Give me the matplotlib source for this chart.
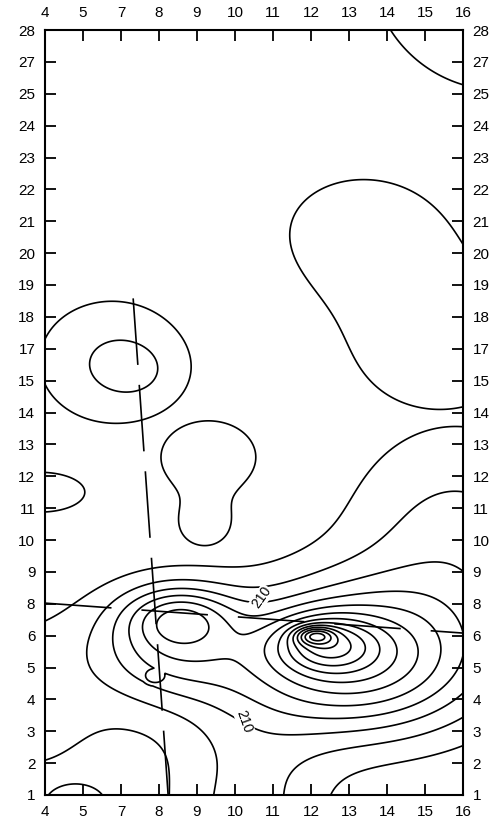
import numpy as np
import matplotlib
matplotlib.use("Agg")
import matplotlib.pyplot as plt

# ---- tick labels (as printed on the chart) ----
x_labels = ["4", "5", "7", "8", "9", "10", "11", "12", "13", "14", "15", "16"]
y_labels = ["1", "2", "3", "4", "5", "6", "8", "9", "10", "11", "12", "13", "14",
            "15", "17", "18", "19", "20", "21", "22", "23", "24", "25", "27", "28"]

# ---- field features ----
# group, centre x, centre y, amplitude, spread x, spread y
feat_group = [0, 1, 1, 2, 2, 3, 3, 4, 5,
              6, 6, 6, 6, 6, 6, 6, 6, 7]
feat_x   = [11.97, 8.3, 10.4, 1.75, 2.55, 4.3, 4.2, -0.13, 0.8,
            3.55, 3.3, 7.1, 7.35, 8.0, 10.8, 5.3, -0.5, 2.9]
feat_y   = [26.2, 17.8, 14.0, 13.6, 13.25, 10.6, 8.4, 9.5, -0.3,
            5.6, 4.8, 5.0, 4.75, 4.2, 7.5, -1.0, 3.0, 3.75]
feat_amp = [2.0, 1.4, 1.45, 2.0, 0.6, 1.8, 1.4, 2.0, 2.0,
            2.6, 4.0, 4.0, 4.0, 6.5, 2.5, 2.4, 1.5, 5.0]
feat_sx  = [2.9, 2.0, 2.4, 1.6, 0.8, 1.15, 0.65, 1.0, 0.68,
            0.9, 1.4, 0.35, 0.9, 2.2, 2.2, 1.5, 1.8, 0.38]
feat_sy  = [3.47, 1.7, 2.2, 1.6, 0.75, 1.05, 0.65, 0.53, 0.55,
            0.6, 1.3, 0.2, 0.6, 1.6, 3.0, 3.0, 2.2, 0.33]

levels = [1, 2, 3, 4, 5, 6, 7, 8, 9, 10, 11, 12, 13, 14, 15]

# section lines
sec_v_x = [2.32, 3.24]
sec_v_y = [15.58, 0.0]
sec_h_x = [0.0, 11.0]
sec_h_y = [6.02, 5.08]

# contour labels
clabel_text = ["210", "210"]
clabel_x = [5.7, 5.24]
clabel_y = [6.2, 2.29]
clabel_rot = [55, -70]

gx = np.linspace(0, 11, 551)
gy = np.linspace(0, 24, 1201)
X, Y = np.meshgrid(gx, gy)
groups = {}
for g, cx, cy, a, sx, sy in zip(feat_group, feat_x, feat_y, feat_amp, feat_sx, feat_sy):
    groups.setdefault(g, np.zeros_like(X))
    groups[g] += a * np.exp(-0.5 * (((X - cx) / sx) ** 2 + ((Y - cy) / sy) ** 2))
Z = np.max(np.stack(list(groups.values())), axis=0)

plt.rcParams['font.family'] = ['Liberation Sans', 'DejaVu Sans']
fig = plt.figure(figsize=(4.99, 8.25), dpi=100)
ax = fig.add_axes([45 / 499, 30 / 825, 418 / 499, 765 / 825])

ax.contour(X, Y, Z, levels=levels, colors='black', linewidths=1.2)
ax.plot(sec_v_x, sec_v_y, color='black', lw=1.2, dashes=(40, 12))
ax.plot(sec_h_x, sec_h_y, color='black', lw=1.2, dashes=(40, 18))
for t, tx, ty, r in zip(clabel_text, clabel_x, clabel_y, clabel_rot):
    ax.text(tx, ty, t, rotation=r, ha='center', va='center', fontsize=10,
            bbox=dict(facecolor='white', edgecolor='none', pad=0.5))

ax.set_xlim(0, 11)
ax.set_ylim(0, 24)
ax.set_xticks(range(len(x_labels)))
ax.set_xticklabels(x_labels)
ax.set_yticks(range(len(y_labels)))
ax.set_yticklabels(y_labels)
ax.tick_params(direction='in', length=8, width=1.3, labelsize=11,
               top=True, right=True, labeltop=True, labelright=True, pad=7)
for s in ax.spines.values():
    s.set_linewidth(1.5)

fig.savefig("out.png", dpi=100)
